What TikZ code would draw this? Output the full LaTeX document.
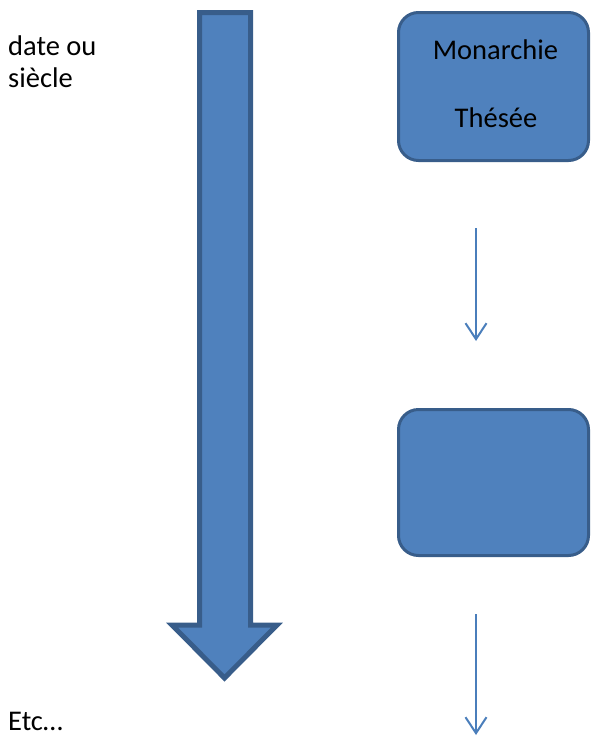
\documentclass[tikz,border=0pt]{standalone}
\usepackage{fontspec}
\setmainfont{Carlito}
\usetikzlibrary{arrows.meta}
\definecolor{fillblue}{HTML}{4F81BD}
\definecolor{lineblue}{HTML}{385D8A}
\definecolor{arrowblue}{HTML}{4A7EBB}
\begin{document}
\begin{tikzpicture}[x=1pt,y=-1pt,
  txt/.style={font=\fontsize{28.5}{32}\selectfont, inner sep=0pt},
  stagebox/.style={draw=lineblue, fill=fillblue, line width=3pt, rounded corners=20pt, minimum width=190pt, inner sep=0pt},
  flow/.style={draw=arrowblue, line width=2pt, -{Straight Barb[length=16pt,width=21pt,line width=2pt]}}]
\useasboundingbox (0,0) rectangle (591,736);
% big timeline arrow
\draw[draw=lineblue, fill=fillblue, line width=5pt, line join=miter, miter limit=10]
  (199.5,12.5) -- (250.5,12.5) -- (250.5,625) -- (277,625) -- (224.5,678) -- (172,625) -- (199.5,625) -- cycle;
% boxes
\node[stagebox, minimum height=148pt] (b1) at (493.5,86.5) {};
\node[stagebox, minimum height=146pt] (b2) at (493.5,482.5) {};
\node[txt, anchor=base] (t1) at (495.5,59) {Monarchie};
\node[txt, anchor=base] (t2) at (496,127) {Thésée};
% small arrows
\coordinate (a1s) at (476,228);
\coordinate (a1e) at (476,341);
\coordinate (a2s) at (476,614);
\coordinate (a2e) at (476,735);
\draw[flow] (a1s) -- (a1e);
\draw[flow] (a2s) -- (a2e);
% side texts
\node[txt, anchor=base west, align=left] (d) at (8,87) {date ou\\siècle};
\node[txt, anchor=base west] (etc) at (8,730) {Etc…};
\end{tikzpicture}
\end{document}
